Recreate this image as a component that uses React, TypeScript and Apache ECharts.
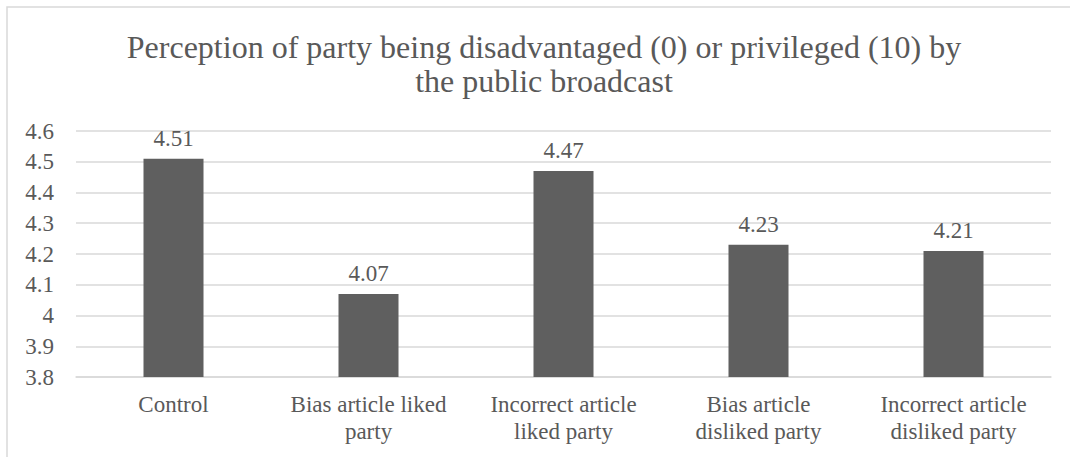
import React, { useEffect, useRef } from "react";
import * as echarts from "echarts";

const categories = [
  "Control",
  "Bias article liked\nparty",
  "Incorrect article\nliked party",
  "Bias article\ndisliked party",
  "Incorrect article\ndisliked party",
];
const values = [4.51, 4.07, 4.47, 4.23, 4.21];
const titleLines = [
  "Perception of party being disadvantaged (0) or privileged (10) by",
  "the public broadcast",
];
const yMin = 3.8;
const yMax = 4.6;
const yInterval = 0.1;

const FONT = "Liberation Serif";
const TEXT = "#595959";

export default function App() {
  const ref = useRef<HTMLDivElement>(null);
  useEffect(() => {
    document.body.style.margin = "0";
    const chart = echarts.init(ref.current!, undefined, { renderer: "svg" });
    chart.setOption({
      animation: false,
      graphic: [
        {
          type: "rect",
          shape: { x: 7, y: 7, width: 1120, height: 520 },
          style: { fill: "none", stroke: "#d9d9d9", lineWidth: 1.5 },
          silent: true,
        },
        {
          type: "text",
          x: 544,
          y: 31,
          style: {
            text: titleLines[0],
            fontFamily: FONT,
            fontSize: 32,
            fill: TEXT,
            align: "center",
          },
        },
        {
          type: "text",
          x: 544,
          y: 65,
          style: {
            text: titleLines[1],
            fontFamily: FONT,
            fontSize: 32,
            fill: TEXT,
            align: "center",
          },
        },
      ],
      grid: { left: 76, right: 19, top: 131, bottom: 80 },
      xAxis: {
        type: "category",
        data: categories,
        axisLine: { lineStyle: { color: "#d9d9d9", width: 1.5 } },
        axisTick: { show: false },
        axisLabel: {
          interval: 0,
          margin: 14,
          color: TEXT,
          fontFamily: FONT,
          fontSize: 23,
          lineHeight: 27,
        },
      },
      yAxis: {
        type: "value",
        min: yMin,
        max: yMax,
        interval: yInterval,
        axisLine: { show: false },
        axisTick: { show: false },
        splitLine: { lineStyle: { color: "#d9d9d9", width: 1.5 } },
        axisLabel: {
          margin: 22,
          color: TEXT,
          fontFamily: FONT,
          fontSize: 23,
          formatter: (v: number) => String(+v.toFixed(1)),
        },
      },
      series: [
        {
          type: "bar",
          data: values,
          barWidth: 60,
          itemStyle: { color: "#5f5f5f" },
          label: {
            show: true,
            position: "top",
            distance: 9,
            color: TEXT,
            fontFamily: FONT,
            fontSize: 23,
            formatter: (p: any) => p.value.toFixed(2),
          },
        },
      ],
    });
    return () => chart.dispose();
  }, []);
  return <div ref={ref} style={{ width: 1070, height: 457 }} />;
}
